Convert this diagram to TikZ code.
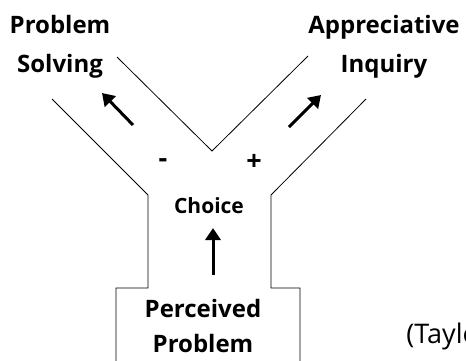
\documentclass[tikz,border=0pt]{standalone}
\usepackage{fontspec}
\setmainfont{Open Sans}
\usetikzlibrary{arrows.meta}

\begin{document}
\begin{tikzpicture}[x=1pt,y=-1pt, line width=0.8pt,
    lbl/.style={font=\bfseries\fontsize{24}{24}\selectfont, inner sep=0pt, anchor=base},
    sign/.style={font=\bfseries\fontsize{27}{27}\selectfont, inner sep=0pt},
    thick arrow/.style={line width=3pt, -{Triangle[length=12pt,width=15pt]}}]
            \useasboundingbox (0,0) rectangle (466,360);
            % outline of the Y
            \draw (117,57) -- (212,151) -- (308,56);
            \draw (52,99) -- (148,195) -- (148,288) -- (116,288) -- (116,362);
            \draw (366,99) -- (271,195) -- (271,288) -- (300,288) -- (300,362);
            % labels
            \node[lbl] (ps1) at (60,33) {Problem};
            \node[lbl] (ps2) at (60,72) {Solving};
            \node[lbl] (ai1) at (384,33) {Appreciative};
            \node[lbl] (ai2) at (384,72) {Inquiry};
            \node[lbl] (pp1) at (203,317) {Perceived};
            \node[lbl] (pp2) at (203,352) {Problem};
            \node[lbl, font=\bfseries\fontsize{21}{21}\selectfont] (ch) at (209,213) {Choice};
            \node[sign] (minus) at (163,163) {-};
            \node[sign] (plus) at (254,162) {+};
            \node[anchor=base west, inner sep=0pt, font=\fontsize{27}{27}\selectfont] (src) at (406,343) {(Taylor};
            % arrows
            \coordinate (l1) at (133,125);
            \coordinate (l2) at (102,93);
            \coordinate (r1) at (289,127);
            \coordinate (r2) at (321,95);
            \coordinate (c1) at (213,275);
            \coordinate (c2) at (213,228);
            \draw[thick arrow] (l1) -- (l2);
            \draw[thick arrow] (r1) -- (r2);
            \draw[thick arrow] (c1) -- (c2);
        \end{tikzpicture}
\end{document}
